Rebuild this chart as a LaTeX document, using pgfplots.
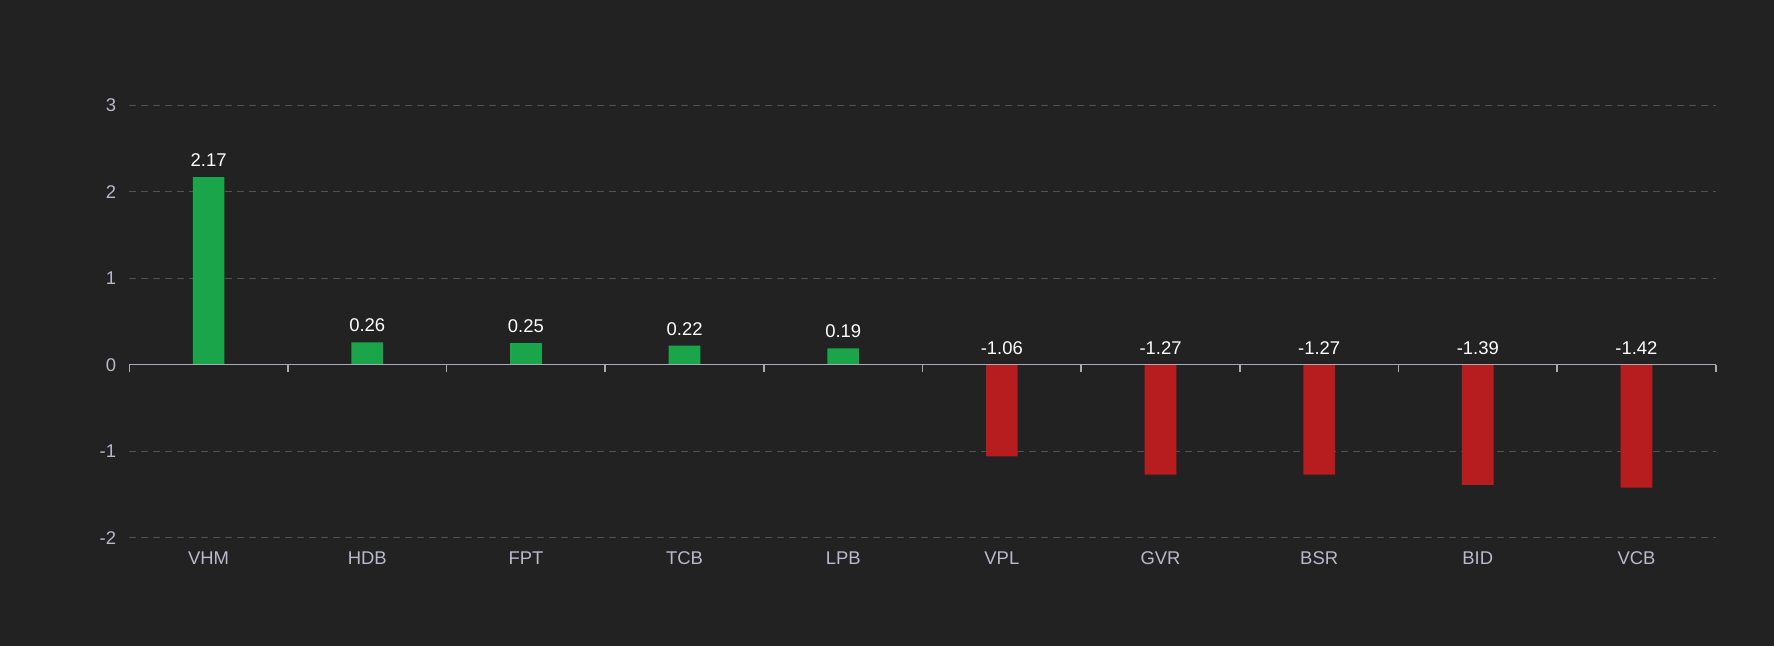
\documentclass[border=0pt]{standalone}
\usepackage{pgfplots}
\pgfplotsset{compat=1.18}
\usepackage{fontspec}
\setmainfont{Liberation Sans}
\definecolor{bg}{HTML}{222222}
\definecolor{gr}{HTML}{1AA54B}
\definecolor{rd}{HTML}{B71D1E}
\definecolor{lbl}{HTML}{B9B9CC}
\definecolor{gridc}{HTML}{525256}
\definecolor{axc}{HTML}{A9A9B8}
\begin{document}
\begin{tikzpicture}
\fill[bg] (0,0) rectangle (1774bp,646bp);
\begin{axis}[
  at={(129.3bp,108.3bp)}, anchor=south west,
  scale only axis, width=1586.4bp, height=432.4bp,
  xmin=-0.5, xmax=9.5, ymin=-2, ymax=3,
  axis line style={draw=none},
  xtick={0,...,9},
  xticklabels={VHM,HDB,FPT,TCB,LPB,VPL,GVR,BSR,BID,VCB},
  ytick={-2,-1,0,1,2,3},
  yticklabels={-2,-1,0,1,2,3},
  major tick length=0pt,
  ymajorgrids,
  grid style={gridc, line width=1.3bp, dash pattern=on 7bp off 5bp},
  tick label style={font=\fontsize{18.5}{22}\selectfont, text=lbl},
  xticklabel style={inner sep=0pt, anchor=north, yshift=-14bp},
  yticklabel style={inner sep=0pt, anchor=east, xshift=-13bp},
  clip=false,
]
\addplot[ybar, bar width=31.7bp, bar shift=0pt, fill=gr, draw=none]
  coordinates {(0,2.17) (1,0.26) (2,0.25) (3,0.22) (4,0.19)};
\addplot[ybar, bar width=31.7bp, bar shift=0pt, fill=rd, draw=none]
  coordinates {(5,-1.06) (6,-1.27) (7,-1.27) (8,-1.39) (9,-1.42)};
\draw[axc, line width=1.5bp] (axis cs:-0.5,0) -- (axis cs:9.5,0);
\pgfplotsinvokeforeach{0,...,10}{
  \draw[axc, line width=1.5bp] (axis cs:#1-0.5,0) -- ([yshift=-7bp]axis cs:#1-0.5,0);
}
\addplot[draw=none, mark=none, nodes near coords, point meta=explicit symbolic,
  every node near coord/.append style={font=\fontsize{18.5}{22}\selectfont, text=white, anchor=south, inner sep=0pt, yshift=10bp}]
  coordinates {(0,2.17)[2.17] (1,0.26)[0.26] (2,0.25)[0.25] (3,0.22)[0.22] (4,0.19)[0.19]
  (5,0)[-1.06] (6,0)[-1.27] (7,0)[-1.27] (8,0)[-1.39] (9,0)[-1.42]};
\end{axis}
\end{tikzpicture}
\end{document}
